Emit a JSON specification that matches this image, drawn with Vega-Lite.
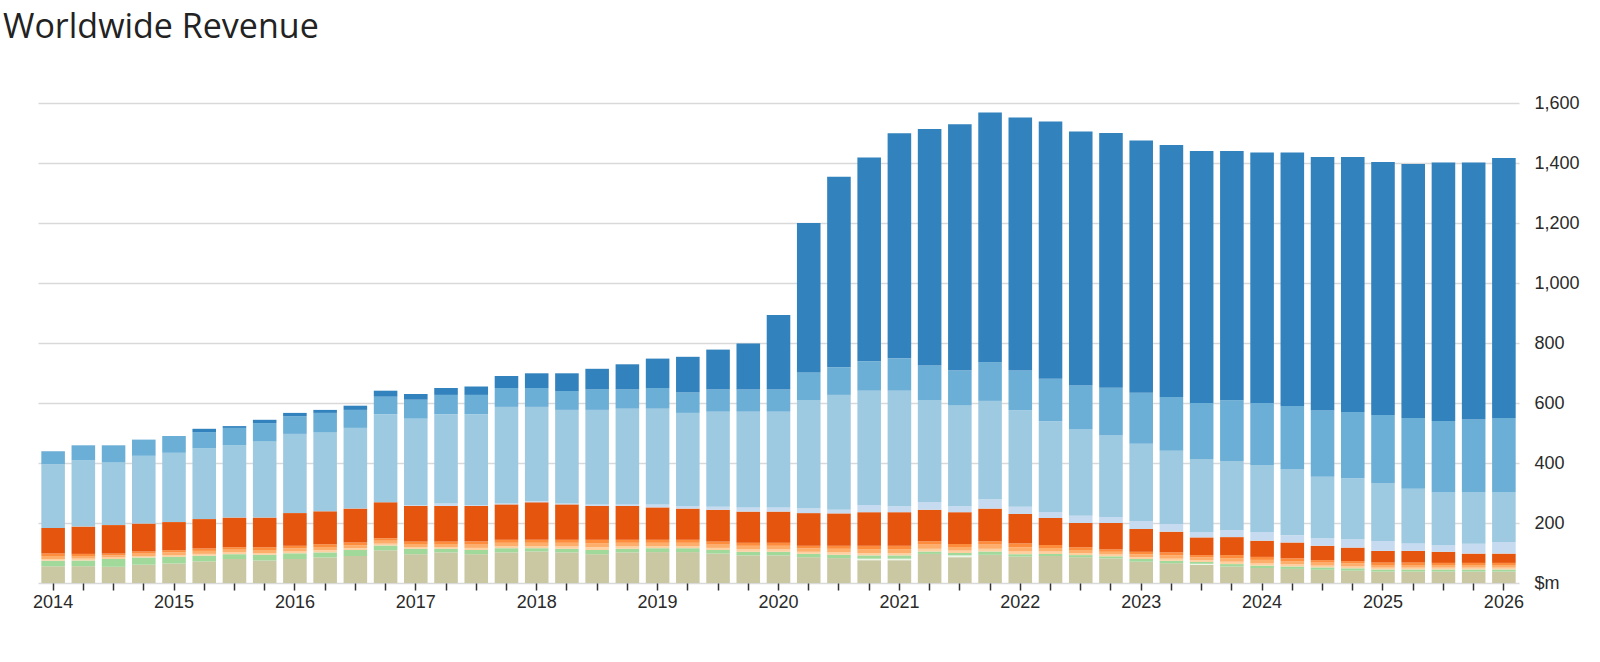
{
  "$schema": "https://vega.github.io/schema/vega-lite/v6.json",
  "autosize": {"type": "none"},
  "width": 1481,
  "height": 480,
  "padding": {"left": 38, "top": 103, "right": 81, "bottom": 79},
  "background": "white",
  "title": {
    "text": "Worldwide Revenue",
    "anchor": "start",
    "frame": "group",
    "dx": -35,
    "offset": 22,
    "baseline": "alphabetic",
    "font": "Open Sans",
    "fontSize": 34,
    "fontWeight": "normal",
    "color": "#222"
  },
  "config": {
    "view": {"stroke": null},
    "axis": {"labelFont": "Liberation Sans", "labelFontSize": 18, "labelColor": "#2a2a2a"}
  },
  "data": {
    "values": [
      {"q": "2014 Q1", "a": 56, "b": 0, "c": 18, "d": 6, "e": 10, "f": 8, "g": 85, "h": 0, "i": 213, "j": 43, "k": 0},
      {"q": "2014 Q2", "a": 56, "b": 0, "c": 19, "d": 6, "e": 9, "f": 7, "g": 91, "h": 0, "i": 221, "j": 50, "k": 0},
      {"q": "2014 Q3", "a": 54, "b": 0, "c": 26, "d": 5, "e": 7, "f": 6, "g": 95, "h": 0, "i": 210, "j": 56, "k": 0},
      {"q": "2014 Q4", "a": 61, "b": 0, "c": 24, "d": 5, "e": 8, "f": 7, "g": 93, "h": 0, "i": 226, "j": 54, "k": 0},
      {"q": "2015 Q1", "a": 65, "b": 0, "c": 22, "d": 6, "e": 9, "f": 7, "g": 94, "h": 0, "i": 231, "j": 56, "k": 0},
      {"q": "2015 Q2", "a": 72, "b": 0, "c": 19, "d": 6, "e": 10, "f": 8, "g": 98, "h": 0, "i": 236, "j": 54, "k": 11},
      {"q": "2015 Q3", "a": 80, "b": 0, "c": 16, "d": 6, "e": 9, "f": 8, "g": 99, "h": 0, "i": 241, "j": 58, "k": 6},
      {"q": "2015 Q4", "a": 75, "b": 0, "c": 19, "d": 6, "e": 10, "f": 9, "g": 99, "h": 0, "i": 255, "j": 60, "k": 11},
      {"q": "2016 Q1", "a": 80, "b": 0, "c": 19, "d": 6, "e": 10, "f": 9, "g": 109, "h": 0, "i": 264, "j": 59, "k": 11},
      {"q": "2016 Q2", "a": 85, "b": 0, "c": 17, "d": 7, "e": 11, "f": 9, "g": 110, "h": 0, "i": 264, "j": 64, "k": 10},
      {"q": "2016 Q3", "a": 90, "b": 0, "c": 20, "d": 6, "e": 10, "f": 9, "g": 113, "h": 0, "i": 269, "j": 60, "k": 14},
      {"q": "2016 Q4", "a": 109, "b": 0, "c": 16, "d": 6, "e": 10, "f": 8, "g": 120, "h": 0, "i": 293, "j": 59, "k": 20},
      {"q": "2017 Q1", "a": 96, "b": 0, "c": 18, "d": 6, "e": 10, "f": 8, "g": 119, "h": 2, "i": 289, "j": 63, "k": 19},
      {"q": "2017 Q2", "a": 102, "b": 0, "c": 12, "d": 6, "e": 10, "f": 8, "g": 119, "h": 8, "i": 297, "j": 65, "k": 23},
      {"q": "2017 Q3", "a": 96, "b": 0, "c": 14, "d": 7, "e": 11, "f": 10, "g": 119, "h": 3, "i": 302, "j": 65, "k": 28},
      {"q": "2017 Q4", "a": 102, "b": 0, "c": 14, "d": 7, "e": 11, "f": 10, "g": 118, "h": 3, "i": 322, "j": 63, "k": 40},
      {"q": "2018 Q1", "a": 105, "b": 0, "c": 11, "d": 7, "e": 11, "f": 10, "g": 125, "h": 4, "i": 314, "j": 63, "k": 49},
      {"q": "2018 Q2", "a": 102, "b": 0, "c": 12, "d": 8, "e": 12, "f": 10, "g": 118, "h": 3, "i": 312, "j": 63, "k": 59},
      {"q": "2018 Q3", "a": 96, "b": 0, "c": 14, "d": 9, "e": 14, "f": 11, "g": 113, "h": 5, "i": 315, "j": 68, "k": 69},
      {"q": "2018 Q4", "a": 102, "b": 0, "c": 12, "d": 8, "e": 12, "f": 10, "g": 113, "h": 5, "i": 319, "j": 64, "k": 84},
      {"q": "2019 Q1", "a": 103, "b": 0, "c": 13, "d": 7, "e": 11, "f": 10, "g": 108, "h": 10, "i": 319, "j": 69, "k": 98},
      {"q": "2019 Q2", "a": 103, "b": 0, "c": 13, "d": 7, "e": 11, "f": 10, "g": 104, "h": 9, "i": 310, "j": 68, "k": 119},
      {"q": "2019 Q3", "a": 98, "b": 0, "c": 12, "d": 7, "e": 11, "f": 10, "g": 106, "h": 10, "i": 317, "j": 74, "k": 133},
      {"q": "2019 Q4", "a": 92, "b": 0, "c": 12, "d": 8, "e": 12, "f": 10, "g": 104, "h": 14, "i": 319, "j": 74, "k": 153},
      {"q": "2020 Q1", "a": 92, "b": 0, "c": 12, "d": 8, "e": 12, "f": 10, "g": 104, "h": 14, "i": 319, "j": 74, "k": 248},
      {"q": "2020 Q2", "a": 86, "b": 0, "c": 11, "d": 7, "e": 11, "f": 9, "g": 109, "h": 15, "i": 362, "j": 92, "k": 498},
      {"q": "2020 Q3", "a": 83, "b": 0, "c": 11, "d": 8, "e": 12, "f": 10, "g": 108, "h": 12, "i": 383, "j": 92, "k": 635},
      {"q": "2020 Q4", "a": 76, "b": 5, "c": 11, "d": 8, "e": 13, "f": 11, "g": 112, "h": 24, "i": 381, "j": 98, "k": 679},
      {"q": "2021 Q1", "a": 76, "b": 5, "c": 11, "d": 8, "e": 13, "f": 11, "g": 112, "h": 20, "i": 385, "j": 108, "k": 750},
      {"q": "2021 Q2", "a": 97, "b": 0, "c": 8, "d": 9, "e": 14, "f": 11, "g": 105, "h": 26, "i": 340, "j": 115, "k": 788},
      {"q": "2021 Q3", "a": 86, "b": 6, "c": 8, "d": 8, "e": 12, "f": 10, "g": 106, "h": 20, "i": 337, "j": 115, "k": 821},
      {"q": "2021 Q4", "a": 94, "b": 0, "c": 11, "d": 9, "e": 14, "f": 11, "g": 109, "h": 30, "i": 329, "j": 129, "k": 832},
      {"q": "2022 Q1", "a": 88, "b": 0, "c": 8, "d": 9, "e": 14, "f": 13, "g": 98, "h": 24, "i": 322, "j": 132, "k": 844},
      {"q": "2022 Q2", "a": 90, "b": 0, "c": 7, "d": 8, "e": 12, "f": 10, "g": 90, "h": 20, "i": 302, "j": 142, "k": 857},
      {"q": "2022 Q3", "a": 86, "b": 0, "c": 7, "d": 7, "e": 10, "f": 9, "g": 81, "h": 24, "i": 288, "j": 146, "k": 847},
      {"q": "2022 Q4", "a": 82, "b": 0, "c": 7, "d": 6, "e": 9, "f": 8, "g": 88, "h": 20, "i": 272, "j": 159, "k": 849},
      {"q": "2023 Q1", "a": 71, "b": 0, "c": 9, "d": 6, "e": 10, "f": 8, "g": 76, "h": 27, "i": 257, "j": 170, "k": 841},
      {"q": "2023 Q2", "a": 66, "b": 0, "c": 8, "d": 7, "e": 11, "f": 10, "g": 69, "h": 26, "i": 244, "j": 179, "k": 840},
      {"q": "2023 Q3", "a": 60, "b": 4, "c": 6, "d": 6, "e": 9, "f": 8, "g": 59, "h": 18, "i": 243, "j": 187, "k": 840},
      {"q": "2023 Q4", "a": 55, "b": 0, "c": 8, "d": 8, "e": 12, "f": 10, "g": 60, "h": 24, "i": 230, "j": 202, "k": 831},
      {"q": "2024 Q1", "a": 50, "b": 0, "c": 8, "d": 7, "e": 12, "f": 10, "g": 54, "h": 29, "i": 223, "j": 207, "k": 835},
      {"q": "2024 Q2", "a": 47, "b": 0, "c": 8, "d": 7, "e": 11, "f": 9, "g": 53, "h": 24, "i": 219, "j": 212, "k": 845},
      {"q": "2024 Q3", "a": 44, "b": 0, "c": 8, "d": 6, "e": 10, "f": 8, "g": 48, "h": 24, "i": 206, "j": 221, "k": 845},
      {"q": "2024 Q4", "a": 41, "b": 0, "c": 8, "d": 6, "e": 10, "f": 8, "g": 45, "h": 28, "i": 203, "j": 221, "k": 850},
      {"q": "2025 Q1", "a": 38, "b": 0, "c": 7, "d": 6, "e": 9, "f": 8, "g": 39, "h": 33, "i": 193, "j": 227, "k": 843},
      {"q": "2025 Q2", "a": 38, "b": 0, "c": 7, "d": 6, "e": 9, "f": 8, "g": 39, "h": 25, "i": 182, "j": 236, "k": 847},
      {"q": "2025 Q3", "a": 38, "b": 0, "c": 7, "d": 6, "e": 9, "f": 7, "g": 37, "h": 22, "i": 176, "j": 238, "k": 862},
      {"q": "2025 Q4", "a": 38, "b": 0, "c": 7, "d": 6, "e": 9, "f": 7, "g": 31, "h": 33, "i": 171, "j": 243, "k": 857},
      {"q": "2026 Q1", "a": 38, "b": 0, "c": 7, "d": 6, "e": 9, "f": 7, "g": 31, "h": 39, "i": 165, "j": 248, "k": 867}
    ]
  },
  "transform": [
    {"fold": ["a", "b", "c", "d", "e", "f", "g", "h", "i", "j", "k"], "as": ["seg", "rev"]}
  ],
  "mark": {"type": "bar"},
  "encoding": {
    "x": {
      "field": "q",
      "type": "ordinal",
      "title": null,
      "scale": {"paddingInner": 0.22, "paddingOuter": 0.11},
      "axis": {
        "labelAngle": 0,
        "labelExpr": "indexof(datum.value, 'Q1') > 0 ? slice(datum.value, 0, 4) : ''",
        "labelPadding": 3,
        "tickSize": 7,
        "tickWidth": 1.5,
        "tickColor": "#333",
        "domain": false,
        "grid": false
      }
    },
    "y": {
      "field": "rev",
      "type": "quantitative",
      "stack": "zero",
      "title": null,
      "scale": {"domain": [0, 1600], "nice": false},
      "axis": {
        "orient": "right",
        "values": [0, 200, 400, 600, 800, 1000, 1200, 1400, 1600],
        "format": ",d",
        "labelExpr": "datum.value == 0 ? '$m' : datum.label",
        "ticks": false,
        "domain": false,
        "labelPadding": 15,
        "gridColor": "#d9d9d9",
        "gridWidth": 1.5
      }
    },
    "color": {
      "field": "seg",
      "type": "nominal",
      "legend": null,
      "scale": {
        "domain": ["a", "b", "c", "d", "e", "f", "g", "h", "i", "j", "k"],
        "range": ["#cac7a3", "#eef6e8", "#a1d99b", "#fdd0a2", "#fdae6b", "#fd8d3c", "#e6550d", "#c6dbef", "#9ecae1", "#6baed6", "#3182bd"]
      }
    },
    "order": {"field": "seg", "sort": "ascending"}
  }
}
